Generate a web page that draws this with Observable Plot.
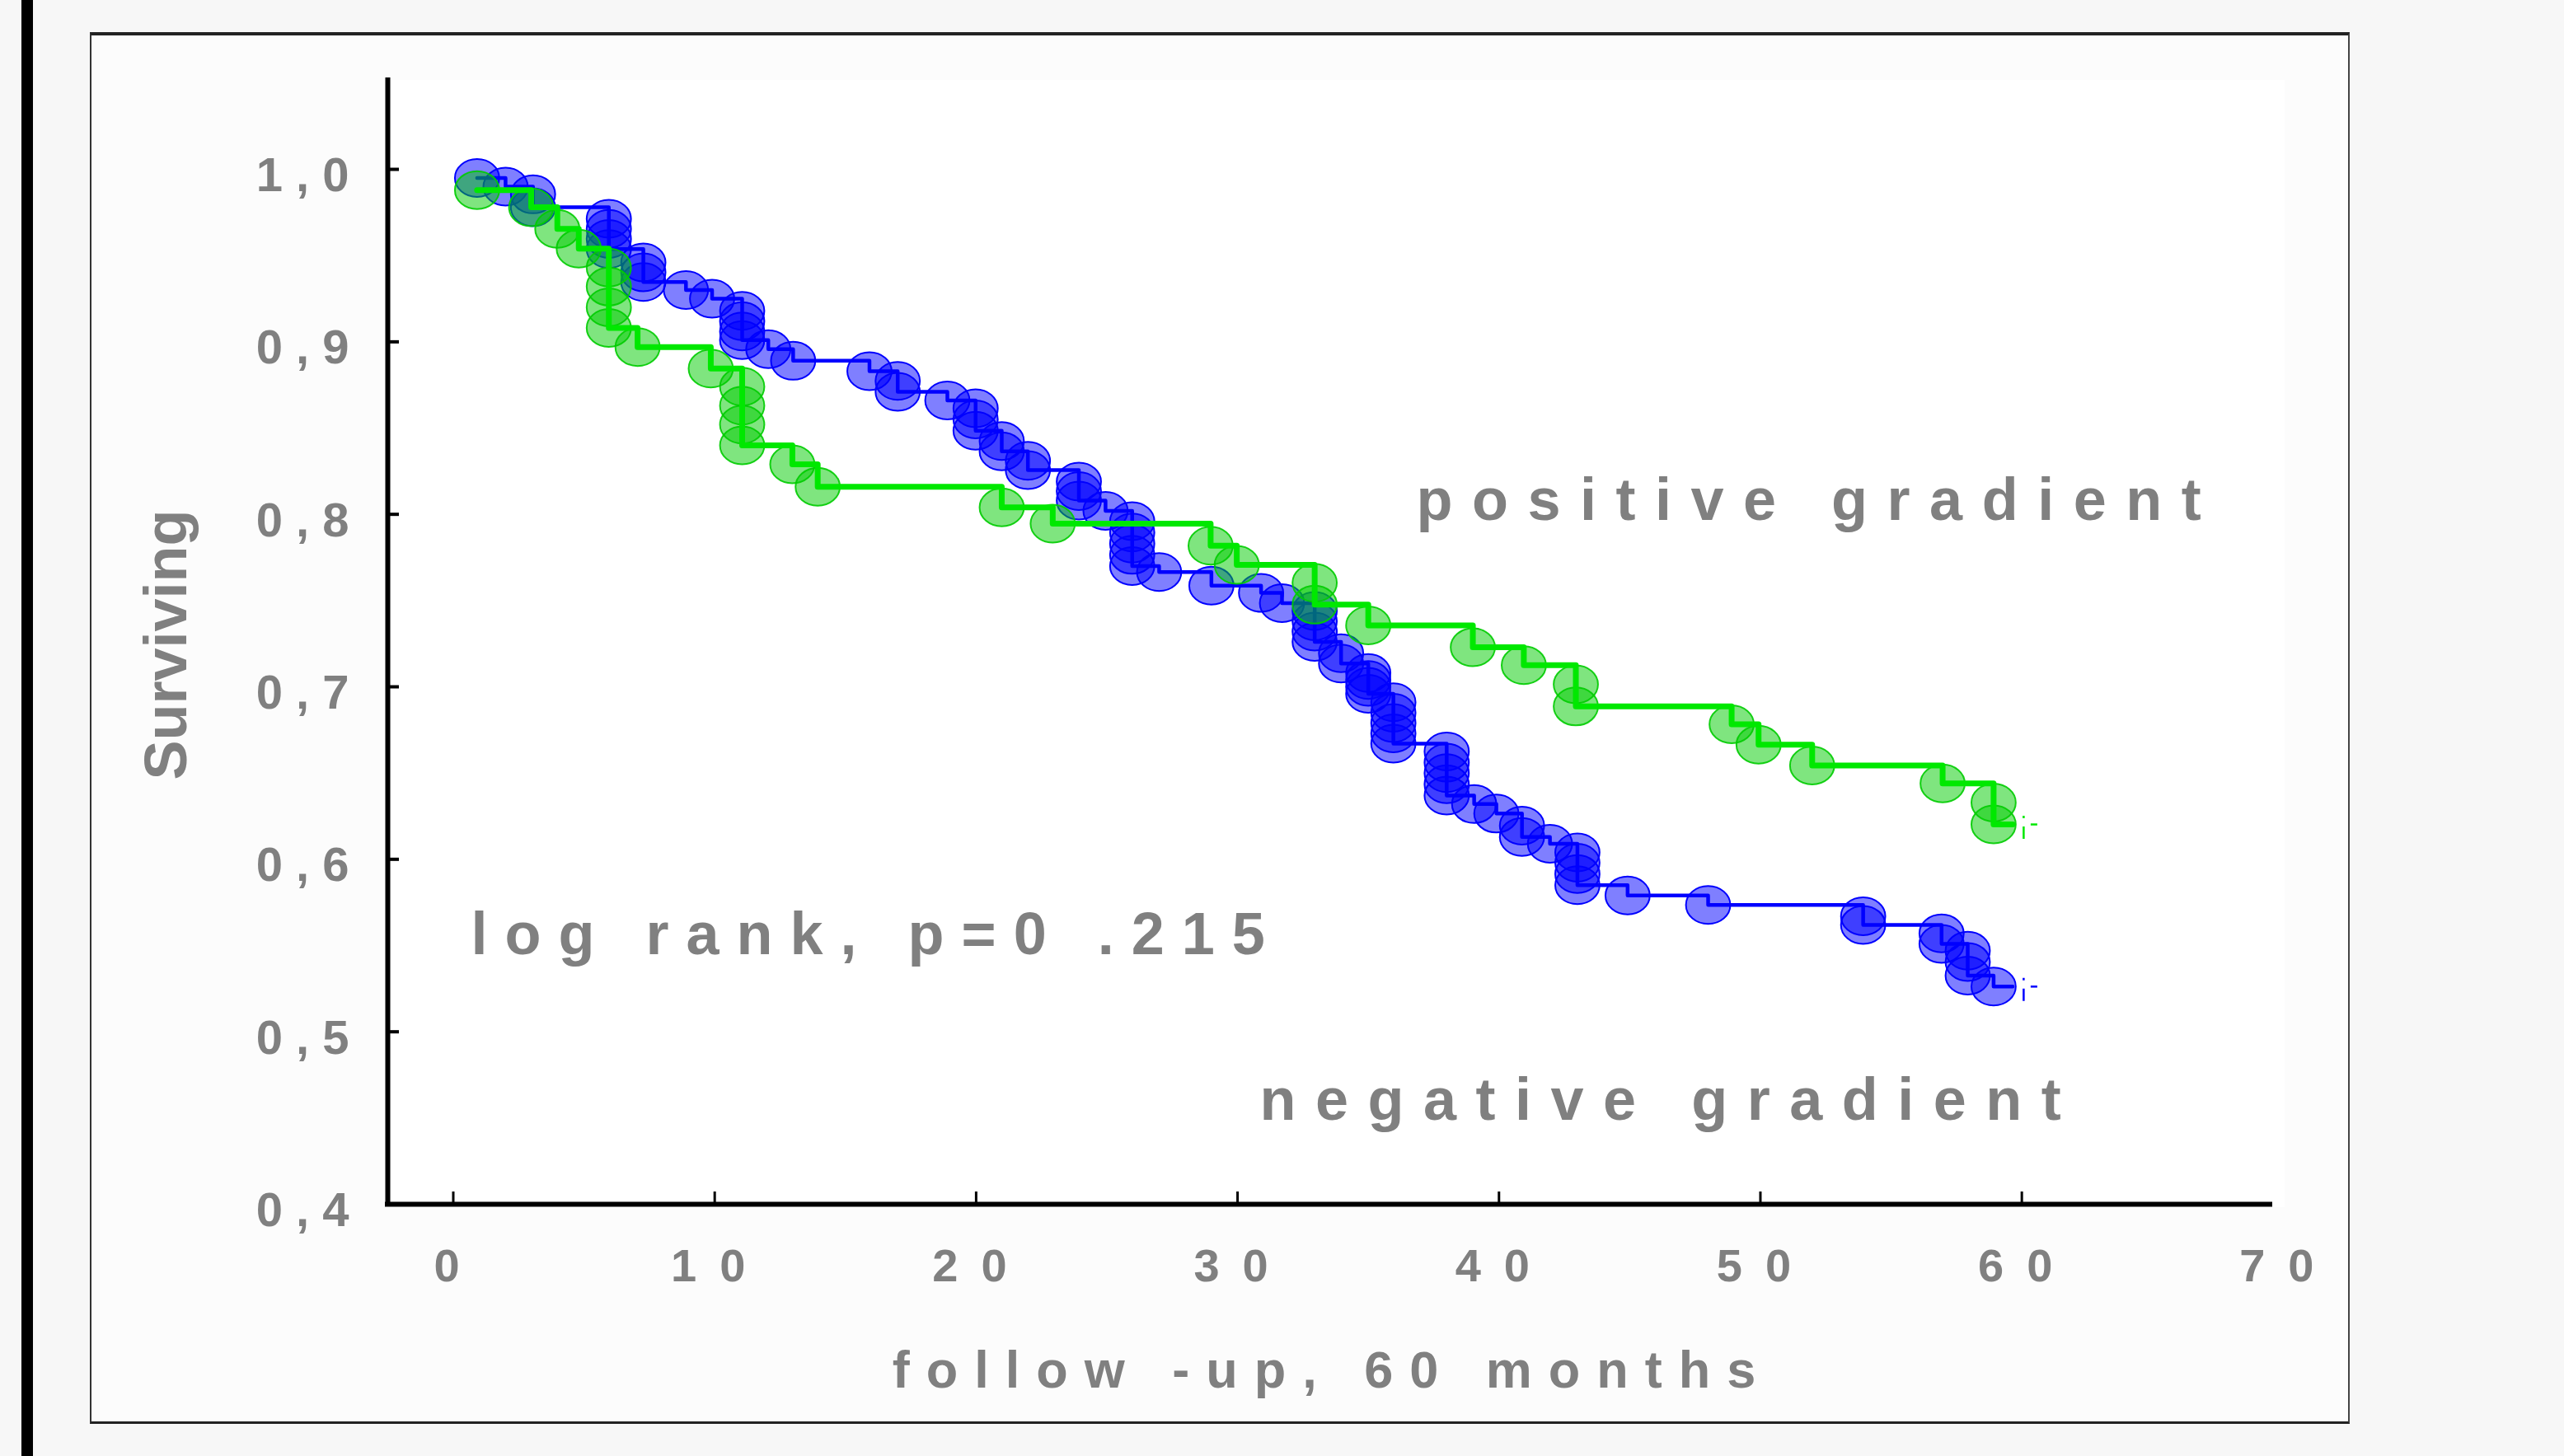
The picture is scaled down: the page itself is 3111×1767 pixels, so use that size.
<!DOCTYPE html>
<html><head><meta charset="utf-8">
<script src="https://cdn.jsdelivr.net/npm/d3@7"></script>
<script src="https://cdn.jsdelivr.net/npm/@observablehq/plot@0.6"></script>
<style>
html,body{margin:0;padding:0;background:#f7f7f7;width:3111px;height:1767px;overflow:hidden;}
#bar{position:absolute;left:26px;top:0;width:14px;height:1767px;background:#000;}
#box{position:absolute;left:109px;top:39px;width:2742px;height:1689px;background:#fcfcfc;border-left:2px solid #333;border-right:2px solid #444;border-top:4px solid #222;border-bottom:3px solid #222;box-sizing:border-box;}
#plotbg{position:absolute;left:470px;top:97px;width:2302px;height:1368px;background:#fff;}
#chart{position:absolute;left:0;top:0;}
</style></head><body>
<div id="bar"></div><div id="box"></div><div id="plotbg"></div><div id="chart"></div>
<script>
// ---- data (months, cumulative proportion surviving) ----
const negMonths = [0.91, 2.0, 3.05, 3.05, 5.95, 5.95, 5.95, 5.95, 7.27, 7.27, 7.27, 8.9, 9.9,
  11.05, 11.05, 11.05, 11.05, 12.05, 13.0, 15.92, 17.0, 17.0, 18.9, 19.98, 19.98, 19.98,
  20.98, 20.98, 21.98, 21.98, 23.93, 23.93, 23.93, 24.95, 25.97, 25.97, 25.97, 25.97, 25.97,
  27.0, 29.0, 30.9, 31.7, 32.95, 32.95, 32.95, 32.95, 33.96, 33.96, 35.0, 35.0, 35.0, 35.0,
  35.96, 35.96, 35.96, 35.96, 35.96, 38.0, 38.0, 38.0, 38.0, 38.0, 39.05, 39.9, 40.88, 40.88,
  41.95, 43.0, 43.0, 43.0, 43.0, 44.92, 48.0, 53.93, 53.93, 56.93, 56.93, 57.93, 57.93, 57.93, 58.92];
const negSurv = [0.995, 0.990, 0.9855, 0.978, 0.9713, 0.9655, 0.9597, 0.9538, 0.946, 0.9403, 0.9347, 0.930, 0.925,
  0.918, 0.912, 0.906, 0.901, 0.8957, 0.889, 0.883, 0.8774, 0.871, 0.866, 0.8615, 0.855, 0.8485,
  0.8425, 0.8365, 0.831, 0.8256, 0.819, 0.8135, 0.808, 0.802, 0.796, 0.7895, 0.783, 0.7765, 0.770,
  0.7665, 0.7587, 0.7545, 0.7485, 0.744, 0.738, 0.732, 0.726, 0.7195, 0.7135, 0.708, 0.704, 0.700, 0.696,
  0.691, 0.685, 0.679, 0.673, 0.667, 0.6625, 0.656, 0.650, 0.6435, 0.637, 0.632, 0.6265, 0.6195, 0.613,
  0.609, 0.604, 0.598, 0.5915, 0.585, 0.579, 0.5735, 0.567, 0.562, 0.557, 0.551, 0.547, 0.5405, 0.5326, 0.5262];
const posMonths = [0.91, 2.98, 3.98, 4.8, 5.95, 5.95, 5.95, 5.95, 7.05, 9.85, 11.05, 11.05, 11.05, 11.05,
  12.97, 13.94, 20.98, 22.93, 28.97, 29.97, 32.95, 32.95, 35.0, 39.0, 40.95, 42.94, 42.94,
  48.9, 49.93, 51.98, 56.97, 58.92, 58.92];
const posSurv = [0.988, 0.978, 0.9655, 0.954, 0.943, 0.932, 0.920, 0.908, 0.897, 0.8845, 0.874, 0.863, 0.852, 0.840,
  0.829, 0.816, 0.804, 0.7946, 0.7818, 0.7707, 0.7603, 0.7476, 0.7356, 0.7229, 0.7125, 0.7014, 0.6886,
  0.6783, 0.6664, 0.6544, 0.644, 0.6329, 0.6202];
const lastFollowUp = 59.65;
const endMarkMonth = 60.07;
const xTickValues = [0, 10, 20, 30, 40, 50, 60, 70];
const yTickValues = [0.4, 0.5, 0.6, 0.7, 0.8, 0.9, 1.0];
const labels = {
  y: "Surviving",
  x: "follow -up, 60 months",
  pos: "positive gradient",
  neg: "negative gradient",
  test: "log rank, p=0 .215"
};

// ---- layout ----
const W = 3111, H = 1767;
const mL = 470, mR = W - 2754, mT = 97, mB = H - 1461;
const xDomain = [-2.506, 69.5];
const yDomain = [0.4, 1.0516];
const pxX = (xDomain[1] - xDomain[0]) / (W - mL - mR);
const pxY = (yDomain[1] - yDomain[0]) / (H - mT - mB);
const gray = "#808080";
const BLUE = "#0000ff", GREEN_LINE = "#00e800", GREEN_DOT = "#00cc00";

const toPts = (ts, ss) => ts.map((t, i) => ({t, s: ss[i]}));
const negPts = toPts(negMonths, negSurv);
const posPts = toPts(posMonths, posSurv);
const negLine = [...negPts, {t: lastFollowUp, s: negSurv[negSurv.length - 1]}];
const posLine = [...posPts, {t: lastFollowUp, s: posSurv[posSurv.length - 1]}];
const ends = [{s: negSurv[negSurv.length - 1], c: BLUE}, {s: posSurv[posSurv.length - 1], c: GREEN_LINE}];

// elliptical marker (slightly wider than tall, as in the reference)
const ellipse = {
  draw(ctx, size) {
    const r = Math.sqrt(size / Math.PI), rx = r * 1.17, ry = r, k = 0.5523;
    ctx.moveTo(rx, 0);
    ctx.bezierCurveTo(rx, ry * k, rx * k, ry, 0, ry);
    ctx.bezierCurveTo(-rx * k, ry, -rx, ry * k, -rx, 0);
    ctx.bezierCurveTo(-rx, -ry * k, -rx * k, -ry, 0, -ry);
    ctx.bezierCurveTo(rx * k, -ry, rx, -ry * k, rx, 0);
    ctx.closePath();
  }
};

const fmtY = d => d.toFixed(1).replace(".", ",");

const chart = Plot.plot({
  width: W, height: H,
  marginLeft: mL, marginRight: mR, marginTop: mT, marginBottom: mB,
  style: {background: "transparent", fontFamily: "'Liberation Sans', Arial, sans-serif", overflow: "visible"},
  x: {domain: xDomain, axis: null},
  y: {domain: yDomain, axis: null},
  marks: [
    // series
    Plot.dot(negPts, {x: "t", y: "s", r: 23, symbol: ellipse, fill: BLUE, fillOpacity: 0.5, stroke: BLUE, strokeWidth: 2}),
    Plot.line(negLine, {x: "t", y: "s", curve: "step-after", stroke: BLUE, strokeWidth: 4.5}),
    Plot.dot(posPts, {x: "t", y: "s", r: 23, symbol: ellipse, fill: GREEN_DOT, fillOpacity: 0.5, stroke: GREEN_DOT, strokeOpacity: 0.9, strokeWidth: 2}),
    Plot.line(posLine, {x: "t", y: "s", curve: "step-after", stroke: GREEN_LINE, strokeWidth: 7}),
    // end-of-follow-up marks
    Plot.ruleX(ends, {x: endMarkMonth, y1: d => d.s + 10 * pxY, y2: d => d.s - 18 * pxY, stroke: d => d.c, strokeWidth: 2.5, strokeDasharray: "3,10,14,0"}),
    Plot.ruleY(ends, {y: "s", x1: endMarkMonth + 9 * pxX, x2: endMarkMonth + 17 * pxX, stroke: d => d.c, strokeWidth: 2.5}),
    // axes
    Plot.ruleY([yDomain[0]], {stroke: "#000", strokeWidth: 6, strokeLinecap: "square"}),
    Plot.ruleX([xDomain[0]], {stroke: "#000", strokeWidth: 6, strokeLinecap: "square"}),
    Plot.ruleX(xTickValues.filter(d => d <= xDomain[1]), {x: d => d, y1: yDomain[0], y2: yDomain[0] + 15 * pxY, stroke: "#000", strokeWidth: 3}),
    Plot.ruleY(yTickValues, {y: d => d, x1: xDomain[0], x2: xDomain[0] + 14 * pxX, stroke: "#000", strokeWidth: 4}),
    Plot.text(xTickValues, {x: d => d, y: yDomain[0], text: d => String(d), lineAnchor: "middle", dy: 76, dx: 6, fontSize: 56, fontWeight: "bold", fill: gray}),
    Plot.text(yTickValues, {x: xDomain[0], y: d => d, text: fmtY, textAnchor: "end", lineAnchor: "middle", dx: -31, dy: 8, fontSize: 58, fontWeight: "bold", fill: gray}),
    Plot.text([labels.y], {frameAnchor: "left", text: d => d, textAnchor: "middle", lineAnchor: "middle", rotate: -90, dx: -268, dy: 3, fontSize: 72, fontWeight: "bold", fill: gray}),
    Plot.text([labels.x], {frameAnchor: "bottom", text: d => d, textAnchor: "middle", lineAnchor: "middle", dy: 202, dx: 4, fontSize: 63, fontWeight: "bold", fill: gray}),
    // annotations
    Plot.text([labels.pos], {x: 36.84, y: 0.8079, text: d => d, textAnchor: "start", lineAnchor: "middle", fontSize: 72, fontWeight: "bold", fill: gray}),
    Plot.text([labels.neg], {x: 30.85, y: 0.4601, text: d => d, textAnchor: "start", lineAnchor: "middle", fontSize: 72, fontWeight: "bold", fill: gray}),
    Plot.text([labels.test], {x: 0.68, y: 0.5561, text: d => d, textAnchor: "start", lineAnchor: "middle", fontSize: 72, fontWeight: "bold", fill: gray})
  ]
});

// letter spacing like the original (spaced-out lettering)
chart.querySelectorAll("text").forEach(el => {
  const s = el.textContent;
  let ls = 0;
  if (/^\d+$/.test(s)) ls = 28;
  else if (/^\d,\d$/.test(s)) ls = 16;
  else if (s === labels.x) ls = 20;
  else if (s === labels.pos || s === labels.neg) ls = 23.5;
  else if (s === labels.test) ls = 21;
  if (ls) el.style.letterSpacing = ls + "px";
});

document.getElementById("chart").appendChild(chart);
</script></body></html>
